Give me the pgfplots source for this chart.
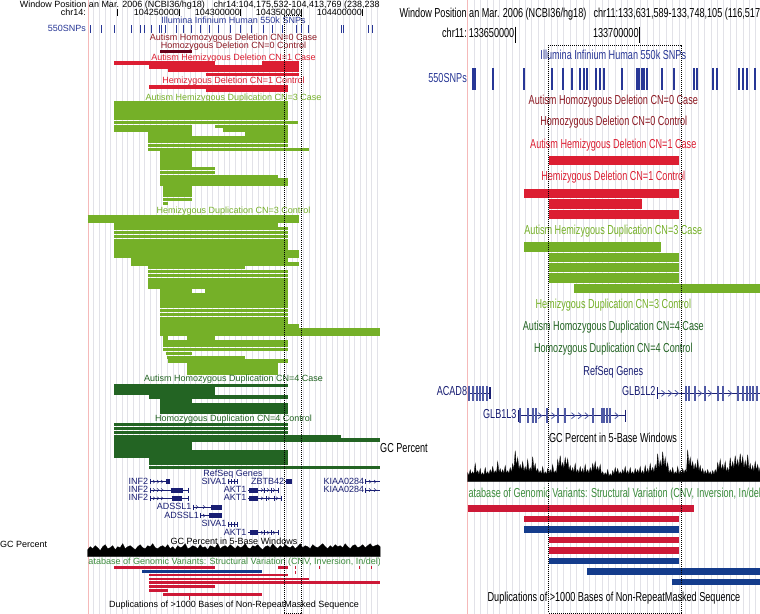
\documentclass[border=0pt]{standalone}
\usepackage{pgfplots}
\pgfplotsset{compat=1.18}
\usepackage{graphicx}
\usepackage{fontspec}
\setmainfont{Liberation Sans}
\definecolor{snpblue}{RGB}{40,55,150}
\definecolor{cnzero}{RGB}{140,25,35}
\definecolor{cnzerobar}{RGB}{105,0,25}
\definecolor{cnone}{RGB}{220,30,50}
\definecolor{cnthree}{RGB}{117,176,40}
\definecolor{cnfour}{RGB}{35,100,35}
\definecolor{gene}{RGB}{25,30,115}
\definecolor{exonR}{RGB}{80,90,165}
\definecolor{dgvtxt}{RGB}{60,140,60}
\definecolor{dgvred}{RGB}{205,25,55}
\definecolor{dgvblue}{RGB}{20,60,140}
\definecolor{gridc}{RGB}{226,226,232}
\definecolor{pinkline}{RGB}{245,185,185}
\pgfdeclareplotmark{chev}{%
  \pgfpathmoveto{\pgfqpoint{-0.6\pgfplotmarksize}{\pgfplotmarksize}}%
  \pgfpathlineto{\pgfqpoint{0.6\pgfplotmarksize}{0pt}}%
  \pgfpathlineto{\pgfqpoint{-0.6\pgfplotmarksize}{-\pgfplotmarksize}}%
  \pgfusepathqstroke}
\pgfplotsset{
  panel/.style={x=1bp,y=1bp,xmin=0,xmax=380,ymin=0,ymax=614,y dir=reverse,
    anchor=south west, axis line style={draw=none}, ytick=\empty, xticklabels={},
    major tick length=0pt, xmajorgrids, major grid style={gridc,line width=0.6bp},
    unbounded coords=jump, clip=true, axis background/.style={fill=white},
    extra x tick style={grid=major, major grid style={pinkline,line width=0.8bp}},
    extra x tick labels={}},
  gcax/.style={x=2.5bp,y=1bp,xmin=0,xmax=117,ymin=0,anchor=south west,hide axis,clip=false},
}
\tikzset{
  L/.style={font=\fontsize{9bp}{10bp}\selectfont, inner sep=0pt},
  Rt/.style={font=\fontsize{13bp}{14bp}\selectfont, inner sep=0pt},
}
\newcommand{\R}[1]{\scalebox{0.7}[1]{#1}}
\begin{document}
\begin{tikzpicture}
\useasboundingbox (0,0) rectangle (760bp,614bp);
\clip (0,0) rectangle (760bp,614bp);
% ================= LEFT PANEL =================
\begin{axis}[panel, at={(0,0)}, xtick={88,93.67,...,380}, extra x ticks={88}]
% header
\node[L,anchor=mid east] at (86.5,4.7) {Window Position};
\node[L,anchor=mid west] at (88.8,4.7) {an Mar. 2006 (NCBI36/hg18)};
\node[L,anchor=mid west] at (213.3,4.7) {chr14:104,175,532-104,413,769 (238,238 bp)};
\node[L,anchor=mid east] at (86,12.7) {chr14:};
\node[L,anchor=mid east] at (179.2,12.7) {104250000};
\node[L,anchor=mid east] at (240.2,12.7) {104300000};
\node[L,anchor=mid east] at (301.2,12.7) {104350000};
\node[L,anchor=mid east] at (362.2,12.7) {104400000};
\addplot[only marks, mark=|, mark size=3.4bp, mark options={line width=0.8bp, black}]
  coordinates {(117.7,12.7)(179.7,12.7)(240.7,12.7)(301.7,12.7)(362.7,12.7)};
\node[L,anchor=mid,text=snpblue] at (233.5,21) {Illumina Infinium Human 550k SNPs};
\node[L,anchor=mid east,text=snpblue] at (86,29.3) {550SNPs};
\addplot[only marks, mark=|, mark size=4bp, mark options={line width=1bp, snpblue}]
  coordinates {(90,29.3)(101.7,29.3)(114.3,29.3)(131.7,29.3)(140,29.3)(144,29.3)(151.7,29.3)(159.3,29.3)(161,29.3)(165,29.3)(176.7,29.3)(183.7,29.3)(191.7,29.3)(200,29.3)(209,29.3)(218.3,29.3)(230,29.3)(240,29.3)(251.7,29.3)(263.3,29.3)(272.7,29.3)(282.7,29.3)(296.7,29.3)(301.7,29.3)(308.3,29.3)(341.7,29.3)(343.3,29.3)(368.3,29.3)(372.7,29.3)};
% CN=0
\node[L,anchor=mid,text=cnzero] at (233.5,38) {Autism Homozygous Deletion CN=0 Case};
\node[L,anchor=mid,text=cnzero] at (233.5,46) {Homozygous Deletion CN=0 Control};
\addplot[cnzerobar, line width=3.3bp] coordinates {(160,51.7)(192,51.7)};
% CN=1
\node[L,anchor=mid,text=cnone] at (233.5,58) {Autism Hemizygous Deletion CN=1 Case};
\addplot[cnone, line width=3.55bp] coordinates {
(114.3,63)(215,63)(nan,nan)(262.3,63)(299,63)(nan,nan)
(149,66.8)(299,66.8)(nan,nan)
(168.3,70.6)(299,70.6)(nan,nan)
(205.7,74.4)(299,74.4)};
\node[L,anchor=mid,text=cnone] at (233.5,81.3) {Hemizygous Deletion CN=1 Control};
\addplot[cnone, line width=3.55bp] coordinates {
(149,87)(288.3,87)(nan,nan)(205.7,90.7)(288.3,90.7)};
% CN=3 case
\node[L,anchor=mid,text=cnthree] at (233.5,97.7) {Autism Hemizygous Duplication CN=3 Case};
\addplot[cnthree, line width=3.55bp] coordinates {
(114.3,103.2)(287.7,103.2)(nan,nan)
(114.3,107.05)(287.7,107.05)(nan,nan)
(114.3,110.9)(287.7,110.9)(nan,nan)
(114.3,114.75)(287.7,114.75)(nan,nan)
(114.3,118.6)(287.7,118.6)(nan,nan)
(114.3,122.45)(298.3,122.45)(nan,nan)
(114.3,126.3)(192.3,126.3)(nan,nan)(215,126.3)(287.7,126.3)(nan,nan)
(114.3,130.15)(192.3,130.15)(nan,nan)(222.7,130.15)(287.7,130.15)(nan,nan)
(148.3,134)(192.3,134)(nan,nan)(245,134)(287.7,134)(nan,nan)
(148.3,137.85)(287.7,137.85)(nan,nan)
(148.3,141.7)(287.7,141.7)(nan,nan)
(148.3,145.55)(287.7,145.55)(nan,nan)
(148.3,149.4)(309,149.4)(nan,nan)
(160.3,153.25)(192.3,153.25)(nan,nan)
(160.3,157.1)(192.3,157.1)(nan,nan)
(160.3,160.95)(192.3,160.95)(nan,nan)
(160.3,164.8)(192.3,164.8)(nan,nan)
(160.3,168.65)(215,168.65)(nan,nan)
(160.3,172.5)(215,172.5)(nan,nan)
(160.3,176.35)(277.7,176.35)(nan,nan)
(160.3,180.2)(287.7,180.2)(nan,nan)
(160.3,184.05)(287.7,184.05)(nan,nan)
(163.3,187.9)(192.3,187.9)(nan,nan)
(163.3,191.75)(192.3,191.75)(nan,nan)
(163.3,195.6)(192.3,195.6)(nan,nan)
(163.3,199.45)(192.3,199.45)(nan,nan)
(163.3,203.3)(168.3,203.3)};
% CN=3 control
\node[L,anchor=mid,text=cnthree] at (233.5,211) {Hemizygous Duplication CN=3 Control};
\addplot[cnthree, line width=3.6bp] coordinates {
(87.7,216.9)(299,216.9)(nan,nan)
(87.7,220.8)(299,220.8)(nan,nan)
(114.3,224.7)(277.7,224.7)(nan,nan)
(114.3,228.6)(288.3,228.6)(nan,nan)
(114.3,232.5)(288.3,232.5)(nan,nan)
(114.3,236.4)(288.3,236.4)(nan,nan)
(114.3,240.3)(288.3,240.3)(nan,nan)
(114.3,244.2)(288.3,244.2)(nan,nan)
(114.3,248.1)(288.3,248.1)(nan,nan)
(114.3,252)(299,252)(nan,nan)
(114.3,255.9)(299,255.9)(nan,nan)
(131,259.8)(288.3,259.8)(nan,nan)
(131,263.7)(299,263.7)(nan,nan)
(148.3,267.6)(245,267.6)(nan,nan)
(148.3,271.5)(288.3,271.5)(nan,nan)
(148.3,275.4)(288.3,275.4)(nan,nan)
(148.3,279.3)(288.3,279.3)(nan,nan)
(148.3,283.2)(288.3,283.2)(nan,nan)
(148.3,287.1)(288.3,287.1)(nan,nan)
(160.3,291)(192.3,291)(nan,nan)(205,291)(288.3,291)(nan,nan)
(160.3,294.9)(288.3,294.9)(nan,nan)
(160.3,298.8)(288.3,298.8)(nan,nan)
(160.3,302.7)(288.3,302.7)(nan,nan)
(160.3,306.6)(288.3,306.6)(nan,nan)
(160.3,310.5)(288.3,310.5)(nan,nan)
(160.3,314.4)(288.3,314.4)(nan,nan)
(160.3,318.3)(288.3,318.3)(nan,nan)
(160.3,322.2)(288.3,322.2)(nan,nan)
(160.3,326.1)(299,326.1)(nan,nan)
(160.3,330)(380,330)(nan,nan)
(160.3,333.9)(380,333.9)(nan,nan)
(163.3,337.8)(168.3,337.8)(nan,nan)(186.7,337.8)(215,337.8)(nan,nan)
(163.3,341.7)(288.3,341.7)(nan,nan)
(163.3,345.6)(288.3,345.6)(nan,nan)
(163.3,349.5)(288.3,349.5)(nan,nan)
(165.7,353.4)(192.3,353.4)(nan,nan)
(166.7,357.3)(245,357.3)(nan,nan)
(168.3,361.2)(288.3,361.2)(nan,nan)
(187.3,365.1)(277.7,365.1)(nan,nan)
(187.3,369)(277.7,369)(nan,nan)
(187.3,372.9)(277.7,372.9)};
% CN=4 case
\node[L,anchor=mid,text=cnfour] at (233.5,379.3) {Autism Homozygous Duplication CN=4 Case};
\addplot[cnfour, line width=3.6bp] coordinates {
(114.3,385.3)(288.3,385.3)(nan,nan)
(114.3,389.2)(215,389.2)(nan,nan)
(114.3,393.1)(215,393.1)(nan,nan)
(149,397)(288.3,397)(nan,nan)
(160.3,400.9)(192,400.9)(nan,nan)
(160.3,404.8)(288.3,404.8)(nan,nan)
(160.3,408.7)(288.3,408.7)(nan,nan)
(160.3,412.6)(288.3,412.6)};
\node[L,anchor=mid,text=cnfour] at (233.5,419) {Homozygous Duplication CN=4 Control};
\addplot[cnfour, line width=3.6bp] coordinates {
(114.3,424.6)(288.3,424.6)(nan,nan)
(114.3,428.5)(288.3,428.5)(nan,nan)
(114.3,432.4)(288.3,432.4)(nan,nan)
(114.3,436.3)(340.7,436.3)(nan,nan)
(114.3,440.2)(380,440.2)(nan,nan)
(114.3,444.1)(192,444.1)(nan,nan)
(114.3,448)(192,448)(nan,nan)
(114.3,451.9)(288.3,451.9)(nan,nan)
(114.3,455.8)(288.3,455.8)(nan,nan)
(149,459.7)(288.3,459.7)(nan,nan)
(149,463.6)(288.3,463.6)(nan,nan)
(149,467.5)(380,467.5)};
% genes
\node[L,anchor=mid,text=gene] at (233,473.6) {RefSeq Genes};
\node[L,anchor=mid east,text=gene] at (148.3,481.7) {INF2};
\node[L,anchor=mid east,text=gene] at (148.3,490) {INF2};
\node[L,anchor=mid east,text=gene] at (148.3,498.3) {INF2};
\node[L,anchor=mid east,text=gene] at (226.7,481.9) {SIVA1};
\node[L,anchor=mid east,text=gene] at (226.7,524.3) {SIVA1};
\node[L,anchor=mid east,text=gene] at (284.3,481.9) {ZBTB42};
\node[L,anchor=mid east,text=gene] at (364.3,481.7) {KIAA0284};
\node[L,anchor=mid east,text=gene] at (364.3,490) {KIAA0284};
\node[L,anchor=mid east,text=gene] at (246.7,490) {AKT1};
\node[L,anchor=mid east,text=gene] at (246.7,498.3) {AKT1};
\node[L,anchor=mid east,text=gene] at (246.7,532.7) {AKT1};
\node[L,anchor=mid east,text=gene] at (191.7,507) {ADSSL1};
\node[L,anchor=mid east,text=gene] at (199,515.7) {ADSSL1};
\addplot[gene, line width=0.7bp] coordinates {
(150,481.7)(170,481.7)(nan,nan)(228,481.7)(237,481.7)(nan,nan)
(284.5,481.7)(292,481.7)(nan,nan)(365.7,481.7)(380,481.7)(nan,nan)
(150,490)(188.3,490)(nan,nan)(248.3,490)(278.3,490)(nan,nan)(365.7,490)(380,490)(nan,nan)
(150,498.3)(188.3,498.3)(nan,nan)(248.3,498.3)(281.7,498.3)(nan,nan)
(193.3,507)(221.7,507)(nan,nan)(200,515.7)(221.7,515.7)(nan,nan)
(228,524.3)(237,524.3)(nan,nan)(248.3,532.7)(278.3,532.7)};
\addplot[gene, line width=5bp] coordinates {
(166,481.7)(170,481.7)(nan,nan)(286,481.7)(291.7,481.7)(nan,nan)
(170.7,490)(182.7,490)(nan,nan)(171.7,498.3)(181.7,498.3)(nan,nan)
(249,490)(258.3,490)(nan,nan)(249,498.3)(258.3,498.3)(nan,nan)(249.5,532.7)(258.3,532.7)(nan,nan)
(211,507)(221.7,507)(nan,nan)(209,515.7)(221.7,515.7)};
\addplot[only marks, mark=|, mark size=2.5bp, mark options={line width=0.7bp, gene}] coordinates {
(150,481.7)(150,490)(150,498.3)(188.3,490)(188.3,498.3)
(228,481.7)(231,481.7)(234,481.7)(237,481.7)(228,524.3)(231,524.3)(234,524.3)(237,524.3)
(264,490)(271,490)(278.3,490)(266,498.3)(274,498.3)(281.7,498.3)(264,532.7)(271,532.7)(278.3,532.7)
(193.3,507)(200,515.7)(365.7,481.7)(365.7,490)};
\addplot[only marks, mark=chev, mark size=1.6bp, mark options={line width=0.5bp, gene}] coordinates {
(154,481.7)(158,481.7)(162,481.7)(154,490)(158,490)(162,490)(154,498.3)(158,498.3)(162,498.3)
(197,507)(204,507)(204,515.7)(262,490)(268,490)(274,490)(262,498.3)(269,498.3)(277,498.3)
(262,532.7)(268,532.7)(274,532.7)(370,481.7)(375,481.7)(370,490)(375,490)};
% GC
\node[L,anchor=mid] at (234,541.7) {GC Percent in 5-Base Windows};
\node[L,anchor=mid west] at (0,545) {GC Percent};
% DGV
\node[L,anchor=mid west,text=dgvtxt] at (88.3,561.7) {atabase of Genomic Variants: Structural Variation (CNV, Inversion, In/del)};
\addplot[dgvred, line width=2.6bp] coordinates {
(114.3,567.3)(215,567.3)(nan,nan)(278.3,567.3)(288.3,567.3)(nan,nan)
(149,575)(288.3,575)(nan,nan)(149,579)(309,579)(nan,nan)(149,582.7)(380,582.7)(nan,nan)
(149,586.7)(215,586.7)(nan,nan)(149,590.7)(168.3,590.7)(nan,nan)(163.3,594.7)(262.3,594.7)};
\addplot[dgvblue, line width=2.6bp] coordinates {(142.3,571.3)(262.3,571.3)};
\addplot[only marks, mark=|, mark size=1.8bp, mark options={line width=0.7bp, dgvred}] coordinates {
(295.7,567.3)(295.7,572.5)(319.3,567.3)(359,567.3)(371.7,567.3)(189.3,598)};
\node[L,anchor=mid] at (234,605) {Duplications of >1000 Bases of Non-RepeatMasked Sequence};
% highlight box
\addplot[black, line width=0.8bp, dash pattern=on 1bp off 1bp] coordinates {
(284.3,15.5)(301.7,15.5)(301.7,613)(284.3,613)(284.3,15.5)};
\end{axis}
% ================= RIGHT PANEL =================
\begin{axis}[panel, at={(380bp,0)}, xtick={87.7,94.1,...,380}, extra x ticks={87.7}]
\node[Rt,anchor=mid east] at (87,14.7) {\R{Window Position}};
\node[Rt,anchor=mid west] at (89,14.7) {\R{an Mar. 2006 (NCBI36/hg18)}};
\node[Rt,anchor=mid west] at (213.3,14.7) {\R{chr11:133,631,589-133,748,105 (116,517 bp)}};
\node[Rt,anchor=mid east] at (87,35) {\R{chr11:}};
\node[Rt,anchor=mid east] at (134.5,35) {\R{133650000}};
\node[Rt,anchor=mid east] at (258.8,35) {\R{133700000}};
\addplot[only marks, mark=|, mark size=8bp, mark options={line width=1bp, black}]
  coordinates {(135,34.7)(259.3,34.7)};
\node[Rt,anchor=mid,text=snpblue] at (233.3,57.3) {\R{Illumina Infinium Human 550k SNPs}};
\node[Rt,anchor=mid east,text=snpblue] at (87,80) {\R{550SNPs}};
\addplot[only marks, mark=|, mark size=10.8bp, mark options={line width=1.8bp, snpblue}]
  coordinates {(92.7,79.2)(95,79.2)(113.3,79.2)(144,79.2)(171.7,79.2)(182.7,79.2)(192.3,79.2)(200,79.2)(204.3,79.2)(207.3,79.2)(216.3,79.2)(220,79.2)(224.3,79.2)(242.3,79.2)(256.7,79.2)(259,79.2)(261.7,79.2)(264.3,79.2)(266.7,79.2)(281.7,79.2)(294,79.2)(314,79.2)(316.7,79.2)(333.3,79.2)(336.7,79.2)(359.3,79.2)(363.3,79.2)(366.7,79.2)(375,79.2)};
\node[Rt,anchor=mid,text=cnzero] at (233.3,101.7) {\R{Autism Homozygous Deletion CN=0 Case}};
\node[Rt,anchor=mid,text=cnzero] at (233.8,122.7) {\R{Homozygous Deletion CN=0 Control}};
\node[Rt,anchor=mid,text=cnone] at (233.3,146) {\R{Autism Hemizygous Deletion CN=1 Case}};
\addplot[cnone, line width=9.3bp] coordinates {(169,160.8)(299,160.8)};
\node[Rt,anchor=mid,text=cnone] at (233.3,178.3) {\R{Hemizygous Deletion CN=1 Control}};
\addplot[cnone, line width=9.3bp] coordinates {
(144,193.3)(299,193.3)(nan,nan)(169,204)(262.3,204)(nan,nan)(169,214.2)(299,214.2)};
\node[Rt,anchor=mid,text=cnthree] at (233.3,231.7) {\R{Autism Hemizygous Duplication CN=3 Case}};
\addplot[cnthree, line width=9.3bp] coordinates {
(144,247)(281,247)(nan,nan)(169,257.4)(299,257.4)(nan,nan)(169,267.7)(299,267.7)(nan,nan)
(169,278)(299,278)(nan,nan)(194,288.5)(380,288.5)};
\node[Rt,anchor=mid,text=cnthree] at (233.3,306) {\R{Hemizygous Duplication CN=3 Control}};
\node[Rt,anchor=mid,text=cnfour] at (233.3,328.3) {\R{Autism Homozygous Duplication CN=4 Case}};
\node[Rt,anchor=mid,text=cnfour] at (233.3,350) {\R{Homozygous Duplication CN=4 Control}};
% genes
\node[Rt,anchor=mid,text=gene] at (233.3,372.7) {\R{RefSeq Genes}};
\node[Rt,anchor=mid east,text=gene] at (87.3,393.3) {\R{ACAD8}};
\node[Rt,anchor=mid east,text=gene] at (275.7,393.3) {\R{GLB1L2}};
\node[Rt,anchor=mid east,text=gene] at (136.7,415.7) {\R{GLB1L3}};
\addplot[gene, line width=1.1bp] coordinates {
(87.7,393.3)(110,393.3)(nan,nan)(277.3,393.3)(380,393.3)(nan,nan)(138.3,415.7)(245.7,415.7)};
\addplot[only marks, mark=|, mark size=7.5bp, mark options={line width=2bp, exonR}] coordinates {
(89.3,393.3)(92.7,393.3)(96.7,393.3)(100,393.3)(103.3,393.3)(107.3,393.3)
(306,393.3)(309.3,393.3)(315,393.3)(325,393.3)(338.3,393.3)(343.3,393.3)(358.3,393.3)(363.3,393.3)(366.7,393.3)(370,393.3)(373.3,393.3)(376.7,393.3)
(140,415.7)(148.3,415.7)(153.3,415.7)(156,415.7)(166.7,415.7)(178.3,415.7)(185,415.7)(213.3,415.7)(221.7,415.7)(224,415.7)(226.7,415.7)(230,415.7)};
\addplot[only marks, mark=|, mark size=6bp, mark options={line width=1.4bp, gene}] coordinates {
(110,393.3)(277.3,393.3)(138.3,415.7)(245.7,415.7)};
\addplot[only marks, mark=chev, mark size=3bp, mark options={line width=0.8bp, exonR}] coordinates {
(283.3,393.3)(290,393.3)(296.7,393.3)(320,393.3)(330,393.3)(350,393.3)
(160,415.7)(173.3,415.7)(193.3,415.7)(200,415.7)(206.7,415.7)(236.7,415.7)};
\node[Rt,anchor=mid] at (233,440) {\R{GC Percent in 5-Base Windows}};
\node[Rt,anchor=mid west] at (0,450) {\R{GC Percent}};
\node[Rt,anchor=mid west,text=dgvtxt] at (88.3,495) {\R{atabase of Genomic Variants: Structural Variation (CNV, Inversion, In/del)}};
\addplot[dgvred, line width=6.3bp] coordinates {
(87.7,508.5)(314,508.5)(nan,nan)(144,519.2)(299,519.2)(nan,nan)(169,540.2)(299,540.2)(nan,nan)(169,550.5)(299,550.5)};
\addplot[dgvblue, line width=6.3bp] coordinates {
(144,529.5)(299,529.5)(nan,nan)(169,561.2)(299,561.2)(nan,nan)(207.3,571.5)(380,571.5)(nan,nan)(291.7,581.8)(380,581.8)};
\node[Rt,anchor=mid] at (234,599.3) {\R{Duplications of >1000 Bases of Non-RepeatMasked Sequence}};
\addplot[black, line width=0.8bp, dash pattern=on 1bp off 1bp] coordinates {
(168.3,45)(301,45)(301,613)(168.3,613)(168.3,45)};
\end{axis}
% ================= GC histograms =================
\begin{axis}[gcax, ymax=14, at={(87.7bp,57.3bp)}]
\addplot[fill=black, draw=black, line width=0.3bp] coordinates {
(0,7)(1,10)(2,8)(3,11)(4,9)(5,6)(6,10)(7,12)(8,8)(9,9)
(10,11)(11,7)(12,10)(13,9)(14,13)(15,8)(16,10)(17,11)(18,9)(19,7)
(20,10)(21,12)(22,9)(23,8)(24,11)(25,10)(26,13)(27,9)(28,8)(29,10)
(30,11)(31,9)(32,12)(33,8)(34,10)(35,7)(36,11)(37,9)(38,10)(39,13)
(40,8)(41,9)(42,11)(43,10)(44,8)(45,12)(46,9)(47,10)(48,7)(49,11)
(50,10)(51,9)(52,13)(53,8)(54,10)(55,11)(56,9)(57,12)(58,10)(59,8)
(60,11)(61,9)(62,10)(63,13)(64,9)(65,8)(66,11)(67,10)(68,12)(69,9)
(70,7)(71,10)(72,11)(73,9)(74,13)(75,10)(76,8)(77,11)(78,9)(79,12)
(80,10)(81,9)(82,11)(83,8)(84,10)(85,13)(86,9)(87,11)(88,10)(89,8)
(90,12)(91,10)(92,9)(93,11)(94,13)(95,10)(96,8)(97,11)(98,9)(99,12)
(100,10)(101,11)(102,9)(103,13)(104,10)(105,8)(106,11)(107,12)(108,9)(109,10)
(110,12)(111,9)(112,11)(113,13)(114,10)(115,11)(116,12)(117,10)} \closedcycle;
\end{axis}
\begin{axis}[gcax, ymax=33, at={(467.7bp,132.3bp)}]
\addplot[fill=black, draw=black, line width=0.3bp] coordinates {
(0,9)(0.5,6)(1,12)(1.5,7)(2,10)(2.5,7)(3,18)(3.5,8)(4,11)(4.5,7)(5,13)(5.5,6)(6,9)(6.5,6)(7,14)(7.5,7)(8,10)(8.5,7)(9,12)(9.5,8)
(10,15)(10.5,8)(11,11)(11.5,8)(12,20)(12.5,9)(13,13)(13.5,8)(14,12)(14.5,8)(15,16)(15.5,8)(16,11)(16.5,8)(17,14)(17.5,9)(18,18)(18.5,12)(19,31)(19.5,15)
(20,24)(20.5,12)(21,17)(21.5,11)(22,20)(22.5,10)(23,15)(23.5,10)(24,22)(24.5,10)(25,14)(25.5,10)(26,25)(26.5,12)(27,18)(27.5,9)(28,13)(28.5,8)(29,11)(29.5,7)
(30,15)(30.5,7)(31,10)(31.5,7)(32,13)(32.5,8)(33,12)(33.5,8)(34,17)(34.5,8)(35,11)(35.5,8)(36,22)(36.5,14)(37,26)(37.5,13)(38,19)(38.5,13)(39,24)(39.5,15)
(40,23)(40.5,11)(41,16)(41.5,9)(42,14)(42.5,9)(43,18)(43.5,8)(44,12)(44.5,8)(45,15)(45.5,8)(46,13)(46.5,8)(47,17)(47.5,8)(48,12)(48.5,8)(49,14)(49.5,9)
(50,18)(50.5,11)(51,20)(51.5,10)(52,15)(52.5,10)(53,17)(53.5,7)(54,10)(54.5,6)(55,9)(55.5,6)(56,12)(56.5,5)(57,8)(57.5,5)(58,11)(58.5,7)(59,14)(59.5,8)
(60,13)(60.5,7)(61,10)(61.5,7)(62,12)(62.5,8)(63,15)(63.5,7)(64,11)(64.5,7)(65,14)(65.5,7)(66,10)(66.5,7)(67,13)(67.5,8)(68,12)(68.5,8)(69,15)(69.5,7)
(70,11)(70.5,7)(71,16)(71.5,8)(72,13)(72.5,8)(73,18)(73.5,9)(74,14)(74.5,9)(75,17)(75.5,11)(76,28)(76.5,13)(77,21)(77.5,13)(78,30)(78.5,15)(79,24)(79.5,12)
(80,19)(80.5,8)(81,12)(81.5,8)(82,14)(82.5,7)(83,10)(83.5,7)(84,15)(84.5,7)(85,11)(85.5,7)(86,13)(86.5,8)(87,12)(87.5,9)(88,32)(88.5,15)(89,24)(89.5,13)
(90,20)(90.5,11)(91,18)(91.5,11)(92,22)(92.5,10)(93,16)(93.5,8)(94,13)(94.5,7)(95,11)(95.5,7)(96,12)(96.5,7)(97,10)(97.5,6)(98,11)(98.5,7)(99,12)(99.5,8)
(100,19)(100.5,12)(101,22)(101.5,11)(102,17)(102.5,11)(103,20)(103.5,9)(104,14)(104.5,9)(105,24)(105.5,12)(106,20)(106.5,13)(107,26)(107.5,14)(108,22)(108.5,14)(109,28)(109.5,15)
(110,25)(110.5,13)(111,21)(111.5,13)(112,27)(112.5,11)(113,18)(113.5,10)(114,16)(114.5,10)(115,20)(115.5,11)(116,17)(116.5,9)(117,15)} \closedcycle;
\end{axis}
\end{tikzpicture}
\end{document}
